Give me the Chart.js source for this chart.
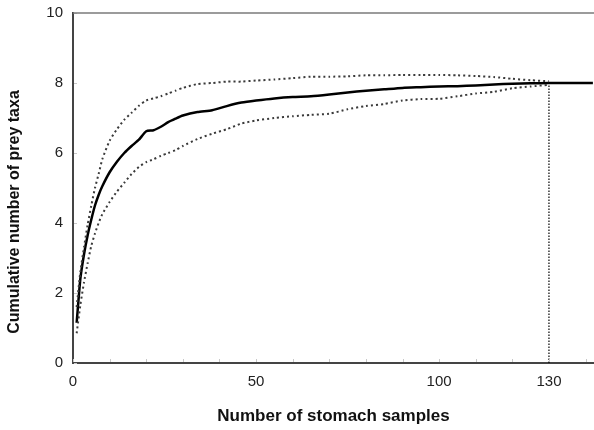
<!DOCTYPE html>
<html>
<head>
<meta charset="utf-8">
<script src="https://cdn.jsdelivr.net/npm/chart.js@4.4.1/dist/chart.umd.min.js"></script>
<style>
  body { margin: 0; background: #fff; }
</style>
</head>
<body>
<canvas id="myChart" width="594" height="430"></canvas>
<script>
// Rarefaction curve: cumulative prey taxa vs stomach samples

const samples = [1, 2, 3, 4, 5, 6, 7, 8, 10, 12, 14, 16, 18, 20, 22, 24, 26, 28, 30, 34,
  38, 42, 46, 50, 55, 60, 65, 70, 75, 80, 85, 90, 95, 100, 105, 110, 115, 120, 125, 130, 142];

const meanTaxa = [1.15, 2.4, 3.1, 3.65, 4.1, 4.5, 4.8, 5.05, 5.45, 5.75, 6.0, 6.2, 6.38, 6.62, 6.65, 6.75, 6.88, 6.98, 7.07, 7.17,
  7.22, 7.34, 7.44, 7.5, 7.56, 7.6, 7.62, 7.67, 7.73, 7.78, 7.82, 7.86, 7.88, 7.9, 7.91, 7.93, 7.96, 7.98, 7.99, 8.0, 8.0];

const upperTaxa = [1.6, 2.6, 3.3, 3.95, 4.5, 5.0, 5.4, 5.82, 6.35, 6.68, 6.95, 7.15, 7.35, 7.5, 7.56, 7.62, 7.7, 7.78, 7.86, 7.97,
  8.0, 8.04, 8.04, 8.07, 8.1, 8.14, 8.18, 8.18, 8.19, 8.22, 8.22, 8.23, 8.23, 8.23, 8.22, 8.2, 8.17, 8.12, 8.08, 8.05, null];

const lowerTaxa = [0.85, 1.65, 2.3, 2.85, 3.35, 3.7, 4.0, 4.25, 4.6, 4.9, 5.15, 5.4, 5.6, 5.74, 5.82, 5.92, 6.0, 6.08, 6.2, 6.4,
  6.55, 6.68, 6.84, 6.93, 7.0, 7.05, 7.09, 7.12, 7.25, 7.34, 7.4, 7.5, 7.54, 7.55, 7.62, 7.7, 7.75, 7.85, 7.9, 7.95, null];

const cutoffX = [130, 130];
const cutoffY = [0, 8];

const xTickValues = [0, 10, 20, 30, 40, 50, 60, 70, 80, 90, 100, 110, 120, 130, 140];
const xTickLabels = [0, 50, 100, 130];
const yTickValues = [0, 2, 4, 6, 8, 10];

const toPoints = (xs, ys) => xs.map((x, i) => ({ x: x, y: ys[i] })).filter(p => p.y !== null);

const font = 'Liberation Sans, Arial, sans-serif';

// inner tick marks, top border and y title
const extras = {
  id: 'extras',
  afterDraw(chart) {
    const { ctx, chartArea: a, scales: { x, y } } = chart;
    ctx.save();
    ctx.strokeStyle = '#c8c8c8';
    ctx.lineWidth = 1;
    xTickValues.forEach(v => {
      const px = Math.round(x.getPixelForValue(v)) + 0.5;
      ctx.beginPath();
      ctx.moveTo(px, a.bottom - 1);
      ctx.lineTo(px, a.bottom - 4);
      ctx.stroke();
    });
    yTickValues.forEach(v => {
      const py = Math.round(y.getPixelForValue(v)) + 0.5;
      ctx.beginPath();
      ctx.moveTo(a.left + 1, py);
      ctx.lineTo(a.left + 4, py);
      ctx.stroke();
    });
    ctx.strokeStyle = '#7a7a7a';
    ctx.lineWidth = 1.5;
    ctx.beginPath();
    ctx.moveTo(a.left, a.top);
    ctx.lineTo(a.right, a.top);
    ctx.stroke();

    ctx.translate(15, 212);
    ctx.rotate(-Math.PI / 2);
    ctx.fillStyle = '#111';
    ctx.font = 'bold 16px ' + font;
    ctx.textAlign = 'center';
    ctx.textBaseline = 'middle';
    ctx.fillText('Cumulative number of prey taxa', 0, 0);
    ctx.restore();
  }
};

const lineBase = {
  pointRadius: 0,
  fill: false,
  tension: 0.2,
  clip: 0
};

const data = {
  datasets: [
    {
      ...lineBase,
      label: 'Upper',
      data: toPoints(samples, upperTaxa),
      borderColor: '#3a3a3a',
      borderWidth: 2,
      borderDash: [2, 3]
    },
    {
      ...lineBase,
      label: 'Lower',
      data: toPoints(samples, lowerTaxa),
      borderColor: '#3a3a3a',
      borderWidth: 2,
      borderDash: [2, 3]
    },
    {
      ...lineBase,
      label: 'Mean',
      data: toPoints(samples, meanTaxa),
      borderColor: '#000',
      borderWidth: 2.5
    },
    {
      ...lineBase,
      label: 'Cutoff',
      data: toPoints(cutoffX, cutoffY),
      borderColor: '#000',
      borderWidth: 1.2,
      borderDash: [1.5, 1.5],
      tension: 0
    }
  ]
};

const config = {
  type: 'line',
  data: data,
  plugins: [extras],
  options: {
    responsive: false,
    animation: false,
    layout: {
      padding: { top: 13, right: 0, left: 0, bottom: 0 }
    },
    plugins: {
      legend: { display: false },
      tooltip: { enabled: false }
    },
    scales: {
      x: {
        type: 'linear',
        min: 0,
        max: 142.3,
        afterBuildTicks: scale => { scale.ticks = xTickValues.map(v => ({ value: v })); },
        afterFit: scale => {
          scale.height = 67;
          scale.paddingLeft = 0;
          scale.paddingRight = 0;
        },
        grid: { display: false, drawTicks: false },
        border: { color: '#444', width: 2 },
        ticks: {
          padding: 10,
          color: '#222',
          font: { family: font, size: 15 },
          maxRotation: 0,
          autoSkip: false,
          callback: v => xTickLabels.includes(v) ? String(v) : ''
        },
        title: {
          display: true,
          text: 'Number of stomach samples',
          color: '#111',
          font: { family: font, size: 17, weight: 'bold' },
          padding: { top: 0, bottom: 3 }
        }
      },
      y: {
        min: 0,
        max: 10,
        afterBuildTicks: scale => { scale.ticks = yTickValues.map(v => ({ value: v })); },
        afterFit: scale => {
          scale.width = 73;
          scale.paddingTop = 0;
          scale.paddingBottom = 0;
        },
        grid: { display: false, drawTicks: false },
        border: { color: '#444', width: 2 },
        ticks: {
          padding: 10,
          color: '#222',
          font: { family: font, size: 15 }
        }
      }
    }
  }
};

const myChart = new Chart(document.getElementById('myChart'), config);
</script>
</body>
</html>
